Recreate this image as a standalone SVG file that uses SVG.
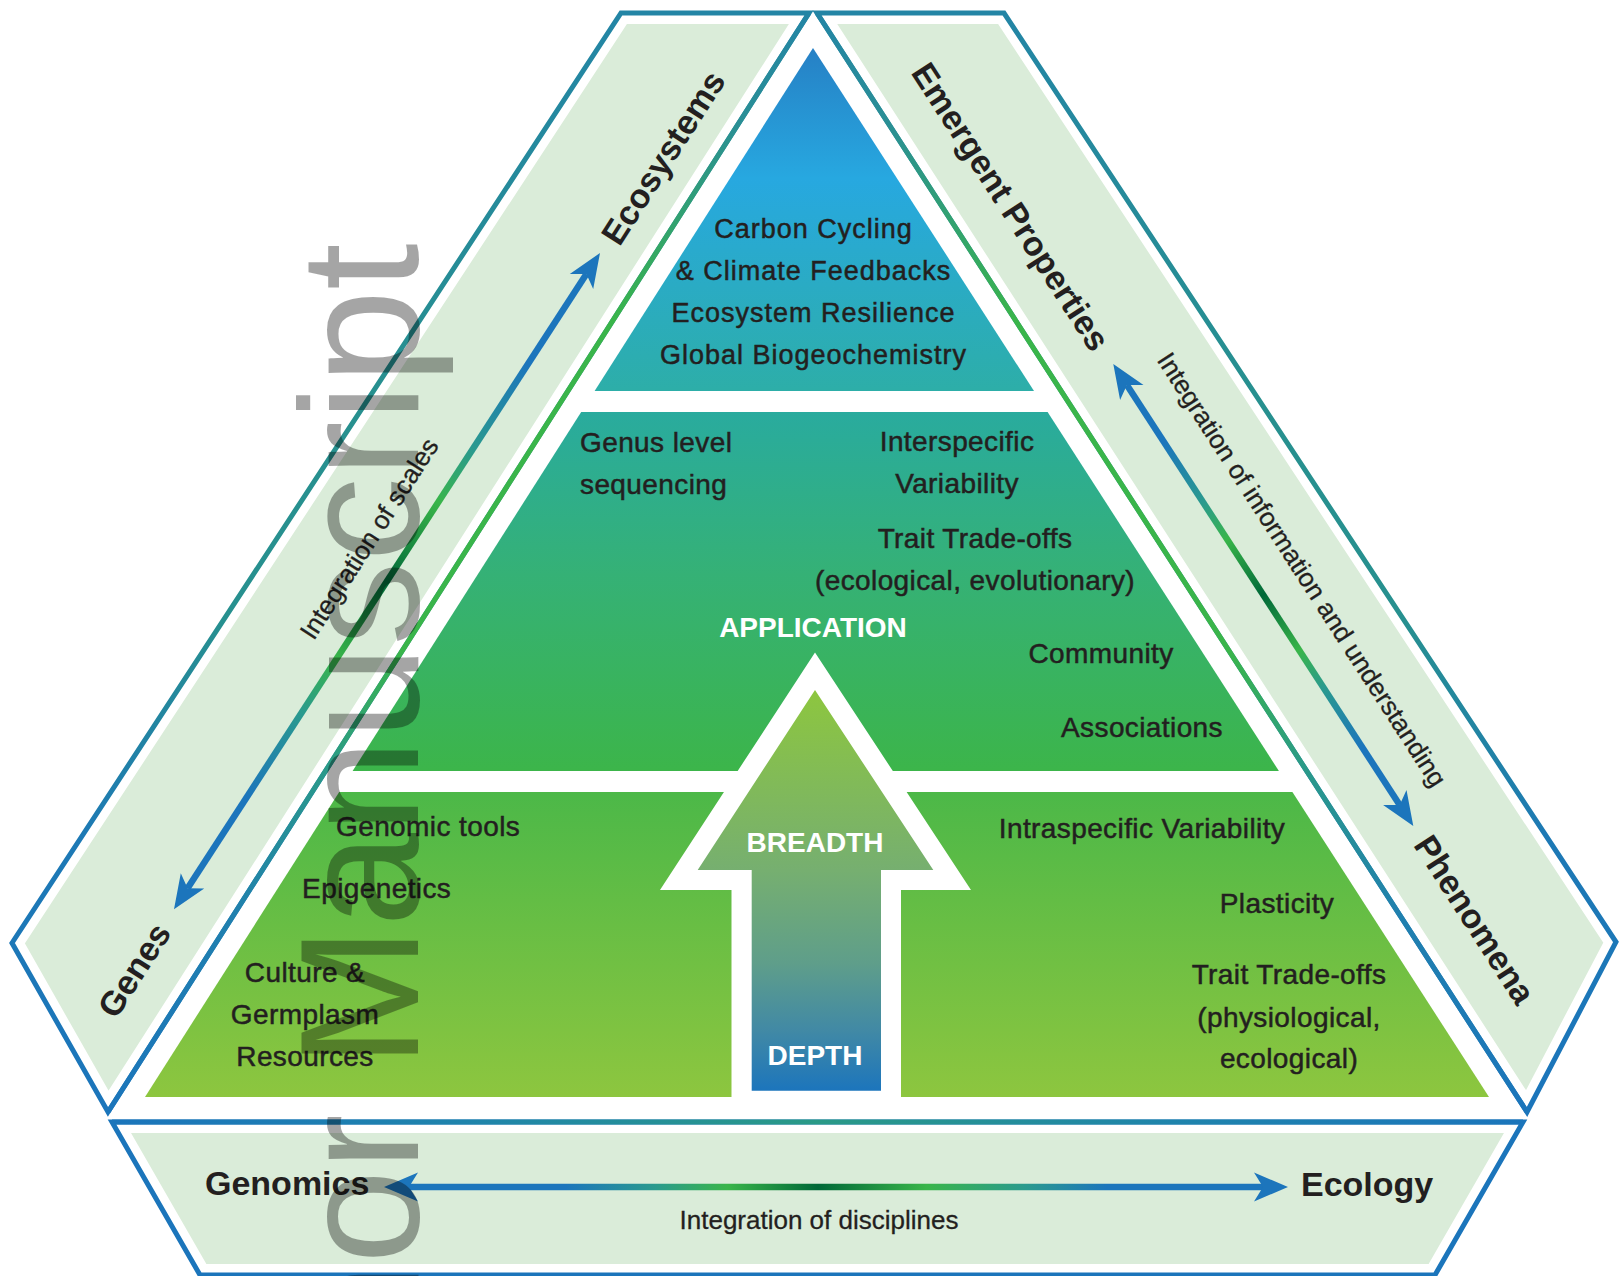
<svg xmlns="http://www.w3.org/2000/svg" width="1619" height="1276" viewBox="0 0 1619 1276">
<defs>
<style>
.t{font-family:"Liberation Sans",Arial,Helvetica,sans-serif;fill:#231f20;stroke:#231f20;stroke-width:0.5px;font-size:28px;letter-spacing:0.4px}
.c{text-anchor:middle}
.top{font-size:27px;letter-spacing:1px}
.b{font-weight:bold;font-size:34px;letter-spacing:0;stroke:none}
.w{fill:#fff;stroke:none;font-weight:bold;font-size:28px;letter-spacing:0}
.s{font-size:26px;letter-spacing:0;stroke-width:0.3px}
.bandfill{fill:#daecd9;stroke:#fff;stroke-width:22;stroke-linejoin:round}
.edge{fill:none;stroke-width:5;stroke-linejoin:miter;stroke-miterlimit:6}
.head{fill:#1c75bc}
.conn{fill:none;stroke-width:6.5}
.wm{font-family:"Liberation Sans",Arial,Helvetica,sans-serif;font-size:168.5px;fill:#000;opacity:0.35}
</style>
<linearGradient id="gOuter" gradientUnits="userSpaceOnUse" x1="0" y1="13" x2="0" y2="1112">
<stop offset="0" stop-color="#2385a5"/><stop offset="0.35" stop-color="#27908f"/><stop offset="0.55" stop-color="#27908f"/><stop offset="0.75" stop-color="#1d79b5"/><stop offset="1" stop-color="#1b75bb"/>
</linearGradient>
<linearGradient id="gInner" gradientUnits="userSpaceOnUse" x1="0" y1="13" x2="0" y2="1112">
<stop offset="0" stop-color="#2385a5"/><stop offset="0.1" stop-color="#2a8f95"/><stop offset="0.28" stop-color="#3ab54a"/><stop offset="0.58" stop-color="#3ab54a"/><stop offset="0.69" stop-color="#2a998a"/><stop offset="0.82" stop-color="#2080ae"/><stop offset="1" stop-color="#1b75bb"/>
</linearGradient>
<linearGradient id="gBotEdge" gradientUnits="userSpaceOnUse" x1="112" y1="0" x2="1523" y2="0">
<stop offset="0" stop-color="#1b75bb"/><stop offset="0.25" stop-color="#1f84ab"/><stop offset="0.5" stop-color="#2a9a86"/><stop offset="0.75" stop-color="#1f84ab"/><stop offset="1" stop-color="#1b75bb"/>
</linearGradient>
<linearGradient id="gTop" gradientUnits="userSpaceOnUse" x1="0" y1="48" x2="0" y2="391">
<stop offset="0" stop-color="#2680c5"/><stop offset="0.38" stop-color="#27a8e0"/><stop offset="1" stop-color="#2daea8"/>
</linearGradient>
<linearGradient id="gMid" gradientUnits="userSpaceOnUse" x1="0" y1="412" x2="0" y2="771">
<stop offset="0" stop-color="#29ab9e"/><stop offset="0.45" stop-color="#35b176"/><stop offset="1" stop-color="#3cb54a"/>
</linearGradient>
<linearGradient id="gBot" gradientUnits="userSpaceOnUse" x1="0" y1="792" x2="0" y2="1097">
<stop offset="0" stop-color="#4cb848"/><stop offset="1" stop-color="#8dc63f"/>
</linearGradient>
<linearGradient id="gArrow" gradientUnits="userSpaceOnUse" x1="0" y1="690" x2="0" y2="1091">
<stop offset="0" stop-color="#8dc63f"/><stop offset="0.45" stop-color="#76af70"/><stop offset="0.68" stop-color="#5f9e8a"/><stop offset="0.85" stop-color="#4189a5"/><stop offset="1" stop-color="#1c75bc"/>
</linearGradient>
<linearGradient id="gConnL" gradientUnits="userSpaceOnUse" x1="600" y1="253" x2="174" y2="909">
<stop offset="0" stop-color="#1c75bc"/><stop offset="0.17" stop-color="#1c75bc"/><stop offset="0.3" stop-color="#2a9a8e"/><stop offset="0.38" stop-color="#39b54a"/><stop offset="0.5" stop-color="#006838"/><stop offset="0.62" stop-color="#39b54a"/><stop offset="0.7" stop-color="#2a9a8e"/><stop offset="0.83" stop-color="#1c75bc"/><stop offset="1" stop-color="#1c75bc"/>
</linearGradient>
<linearGradient id="gConnR" gradientUnits="userSpaceOnUse" x1="1113" y1="364" x2="1413" y2="826">
<stop offset="0" stop-color="#1c75bc"/><stop offset="0.17" stop-color="#1c75bc"/><stop offset="0.3" stop-color="#2a9a8e"/><stop offset="0.38" stop-color="#39b54a"/><stop offset="0.5" stop-color="#006838"/><stop offset="0.62" stop-color="#39b54a"/><stop offset="0.7" stop-color="#2a9a8e"/><stop offset="0.83" stop-color="#1c75bc"/><stop offset="1" stop-color="#1c75bc"/>
</linearGradient>
<linearGradient id="gConnB" gradientUnits="userSpaceOnUse" x1="384" y1="0" x2="1288" y2="0">
<stop offset="0" stop-color="#1c75bc"/><stop offset="0.2" stop-color="#1c75bc"/><stop offset="0.3" stop-color="#2a9a8e"/><stop offset="0.38" stop-color="#39b54a"/><stop offset="0.48" stop-color="#006838"/><stop offset="0.6" stop-color="#39b54a"/><stop offset="0.71" stop-color="#2a9a8e"/><stop offset="0.8" stop-color="#1c75bc"/><stop offset="1" stop-color="#1c75bc"/>
</linearGradient>
</defs>
<rect width="1619" height="1276" fill="#fff"/>

<g id="band-fills">
<polygon class="bandfill" points="621,13 809,13 108,1112 12,943"/>
<polygon class="bandfill" points="817,13 1004,13 1616,942 1527,1112"/>
<polygon class="bandfill" points="112,1122 1523,1122 1435,1275 200,1275"/>
</g>

<g id="band-scales">
<polygon class="edge" stroke="url(#gOuter)" points="621,13 809,13 108,1112 12,943"/>
<path class="edge" stroke="url(#gInner)" d="M809,13 L108,1112"/>
<text class="t b c" transform="translate(663,157.5) rotate(-57.3)" y="12">Ecosystems</text>
<text class="t b c" transform="translate(134,970) rotate(-57.3)" y="12">Genes</text>
<text class="t s c" transform="translate(369,538.5) rotate(-57.3)" y="9">Integration of scales</text>
</g>

<g id="band-information">
<polygon class="edge" stroke="url(#gOuter)" points="817,13 1004,13 1616,942 1527,1112"/>
<path class="edge" stroke="url(#gInner)" d="M817,13 L1527,1112"/>
<text class="t b c" transform="translate(1011,206.5) rotate(57.2)" y="12">Emergent Properties</text>
<text class="t b c" transform="translate(1475,919.5) rotate(57.2)" y="12">Phenomena</text>
<text class="t s c" transform="translate(1302,569.5) rotate(57.2)" y="9">Integration of information and understanding</text>
</g>

<g id="band-disciplines">
<polygon class="edge" stroke="#1b75bb" points="112,1122 1523,1122 1435,1275 200,1275"/>
<path class="edge" stroke="url(#gBotEdge)" d="M112,1122 L1523,1122"/>
<text class="t b" x="205" y="1195">Genomics</text>
<text class="t b" x="1301" y="1196">Ecology</text>
<text class="t s c" x="819" y="1229">Integration of disciplines</text>
</g>

<g id="tier-top">
<polygon fill="url(#gTop)" points="813,48 1034,391 594.6,391"/>
<text class="t top c" x="813.5" y="237.5">Carbon Cycling</text>
<text class="t top c" x="813.5" y="279.5">&amp; Climate Feedbacks</text>
<text class="t top c" x="813.5" y="322">Ecosystem Resilience</text>
<text class="t top c" x="813.5" y="364">Global Biogeochemistry</text>
</g>

<g id="tier-middle">
<polygon fill="url(#gMid)" points="581.2,412 1047.6,412 1278.9,771 352.6,771"/>
</g>

<g id="tier-bottom">
<polygon fill="url(#gBot)" points="339.2,792 1292.4,792 1489,1097 145,1097"/>
</g>

<g id="arrow-breadth-depth">
<polygon fill="#fff" points="815,652.5 971,890 901,890 901,1100 731.5,1100 731.5,890 660,890"/>
<polygon fill="url(#gArrow)" points="815,690 933.3,870 881,870 881,1090.7 751.7,1090.7 751.7,870 697.7,870"/>
<text class="t w c" x="815" y="851.7">BREADTH</text>
<text class="t w c" x="815" y="1065">DEPTH</text>
</g>

<g id="tier-middle-text">
<text class="t" x="580" y="452">Genus level</text>
<text class="t" x="580" y="494">sequencing</text>
<text class="t c" x="957" y="451">Interspecific</text>
<text class="t c" x="957" y="492.5">Variability</text>
<text class="t c" x="975" y="547.5">Trait Trade-offs</text>
<text class="t c" x="975" y="590">(ecological, evolutionary)</text>
<text class="t w c" x="813" y="637">APPLICATION</text>
<text class="t c" x="1101" y="662.5">Community</text>
<text class="t c" x="1142" y="737">Associations</text>
</g>

<g id="tier-bottom-text">
<text class="t" x="336" y="835.5">Genomic tools</text>
<text class="t c" x="376.7" y="898">Epigenetics</text>
<text class="t c" x="305" y="981.7">Culture &amp;</text>
<text class="t c" x="305" y="1024">Germplasm</text>
<text class="t c" x="305" y="1066">Resources</text>
<text class="t c" x="1142" y="837.5">Intraspecific Variability</text>
<text class="t c" x="1277" y="912.7">Plasticity</text>
<text class="t c" x="1289" y="984">Trait Trade-offs</text>
<text class="t c" x="1289" y="1026.7">(physiological,</text>
<text class="t c" x="1289" y="1068">ecological)</text>
</g>

<g id="connectors">
<path class="conn" stroke="url(#gConnL)" d="M586.4,274 L187.6,888.3"/>
<path class="head" d="M600,253 L593.2,289.1 L586.4,274 L569.8,273.9 Z"/>
<path class="head" d="M174,909.3 L180.8,873.2 L187.6,888.3 L204.2,888.4 Z"/>
<path class="conn" stroke="url(#gConnR)" d="M1126.9,385 L1399.7,805"/>
<path class="head" d="M1113.3,364 L1143.5,384.9 L1126.9,385 L1120.1,400.1 Z"/>
<path class="head" d="M1413.3,826 L1406.5,789.9 L1399.7,805 L1383.1,805.1 Z"/>
<path class="conn" stroke="url(#gConnB)" d="M409,1187 L1263,1187"/>
<path class="head" d="M384,1187 L418,1172.5 L409,1187 L418,1201.5 Z"/>
<path class="head" d="M1288,1187 L1254,1172.5 L1263,1187 L1254,1201.5 Z"/>
</g>

<g id="watermark">
<text class="wm" transform="translate(418,1610.5) rotate(-90)">Author Manuscript</text>
</g>
</svg>
